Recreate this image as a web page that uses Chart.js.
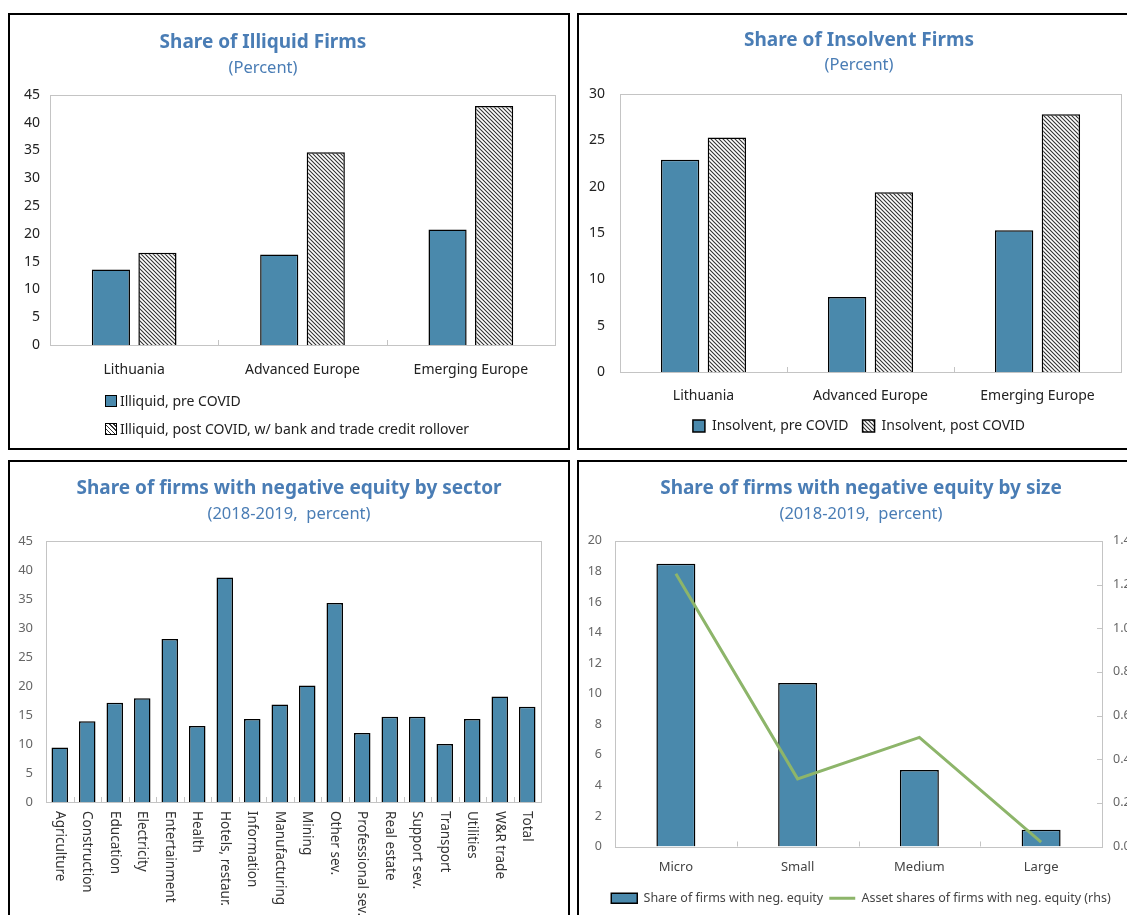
<!DOCTYPE html>
<html lang="en">
  <head>
    <meta charset="UTF-8" />
    <title>Firm liquidity and solvency</title>
    <script src="https://cdn.jsdelivr.net/npm/chart.js@4.4.1/dist/chart.umd.min.js"></script>
    <style>
      html, body { margin: 0; padding: 0; background: #fff; }
      body { width: 1127px; height: 915px; overflow: hidden; position: relative; font-family: 'Noto Sans', sans-serif; }
      .panel { position: absolute; border: 2px solid #000; background: #fff; }
      .panel canvas { position: absolute; left: 0; top: 0; }
      .legend-row { position: absolute; left: 95px; height: 20px; line-height: 20px; font-size: 14px; color: #222; white-space: nowrap; }
      .sw { display: inline-block; width: 10px; height: 10px; border: 1.5px solid #000; vertical-align: -1px; margin-right: 3px; }
      .sw.solid { background: #4a89ac; }
      .sw.hatch { background: repeating-linear-gradient(45deg, #333 0 1px, #fff 1px 3px); }
    </style>
  </head>
  <body>
    <div class="panel" style="left:8px;top:13px;width:558px;height:433px">
      <canvas id="illiquid" width="558" height="433"></canvas>
      <div class="legend-row" style="top:376px"><span class="sw solid"></span>Illiquid, pre COVID</div>
      <div class="legend-row" style="top:404px"><span class="sw hatch"></span>Illiquid, post COVID, w/ bank and trade credit rollover</div>
    </div>
    <div class="panel" style="left:577px;top:13px;width:558px;height:433px">
      <canvas id="insolvent" width="558" height="433"></canvas>
    </div>
    <div class="panel" style="left:8px;top:460px;width:558px;height:455px">
      <canvas id="sector" width="558" height="455"></canvas>
    </div>
    <div class="panel" style="left:577px;top:460px;width:558px;height:455px">
      <canvas id="size" width="558" height="455"></canvas>
    </div>
    <script>
      // values
      const regions = ['Lithuania', 'Advanced Europe', 'Emerging Europe'];
      const illiquidPre = [13.6, 16.3, 20.8];
      const illiquidPost = [16.6, 34.7, 43.0];
      const insolventPre = [22.9, 8.1, 15.3];
      const insolventPost = [25.3, 19.4, 27.8];

      const sectors = ['Agriculture', 'Construction', 'Education', 'Electricity', 'Entertainment', 'Health',
        'Hotels, restaur.', 'Information', 'Manufacturing', 'Mining', 'Other sev.', 'Professional sev.',
        'Real estate', 'Support sev.', 'Transport', 'Utilities', 'W&R trade', 'Total'];
      const negEquitySector = [9.4, 13.9, 17.1, 17.9, 28.1, 13.1, 38.7, 14.3, 16.8, 20.1, 34.3, 11.9,
        14.7, 14.7, 10.0, 14.3, 18.2, 16.4];

      const sizes = ['Micro', 'Small', 'Medium', 'Large'];
      const negEquityShare = [18.5, 10.7, 5.0, 1.1];
      const assetShare = [1.25, 0.31, 0.50, 0.02];

      const ticksIlliquid = [0, 5, 10, 15, 20, 25, 30, 35, 40, 45];
      const ticksInsolvent = [0, 5, 10, 15, 20, 25, 30];
      const ticksSector = [0, 5, 10, 15, 20, 25, 30, 35, 40, 45];
      const ticksSize = [0, 2, 4, 6, 8, 10, 12, 14, 16, 18, 20];
      const ticksAsset = [0, 0.2, 0.4, 0.6, 0.8, 1.0, 1.2, 1.4];

      const barBlue = '#4a89ac';
      const titleBlue = '#4a7db5';
      const lineGreen = '#8db56a';

      Chart.defaults.font.family = "'Noto Sans', sans-serif";
      Chart.defaults.animation = false;

      function hatch() {
        const c = document.createElement('canvas');
        c.width = 4;
        c.height = 4;
        const x = c.getContext('2d');
        x.fillStyle = '#fff';
        x.fillRect(0, 0, 4, 4);
        x.strokeStyle = '#333';
        x.lineWidth = 1.1;
        x.beginPath();
        x.moveTo(-1, -1); x.lineTo(5, 5);
        x.moveTo(-1, 3); x.lineTo(1, 5);
        x.moveTo(3, -1); x.lineTo(5, 1);
        x.stroke();
        return x.createPattern(c, 'repeat');
      }

      const fromTicks = (arr) => ({
        min: arr[0],
        max: arr[arr.length - 1],
        afterBuildTicks: (s) => { s.ticks = arr.map((v) => ({ value: v })); },
      });

      const noGrid = { display: false, drawTicks: false };

      // light grey box round the plot, inward tick marks between categories
      const frame = {
        id: 'frame',
        beforeDatasetsDraw(chart) {
          const { ctx, chartArea: a, scales } = chart;
          ctx.save();
          ctx.strokeStyle = '#c4c4c4';
          ctx.lineWidth = 1;
          ctx.strokeRect(Math.round(a.left) + 0.5, Math.round(a.top) + 0.5, Math.round(a.width), Math.round(a.height));
          ctx.beginPath();
          const x = scales.x;
          for (let i = 1; i < x.ticks.length; i++) {
            const px = Math.round((x.getPixelForValue(i - 1) + x.getPixelForValue(i)) / 2) + 0.5;
            ctx.moveTo(px, a.bottom);
            ctx.lineTo(px, a.bottom - 5);
          }
          if (scales.y1) {
            scales.y1.ticks.forEach((t) => {
              const py = Math.round(scales.y1.getPixelForValue(t.value)) + 0.5;
              ctx.moveTo(a.right, py);
              ctx.lineTo(a.right - 5, py);
            });
          }
          ctx.stroke();
          ctx.restore();
        },
      };
      Chart.register(frame);

      // centre title, subtitle and legend on the panel rather than the padded canvas
      const shiftBoxes = (dx) => ({
        id: 'shiftBoxes',
        afterLayout(chart) {
          chart.boxes.forEach((b) => {
            if (typeof b._drawArgs === 'function' || b === chart.legend) {
              b.left += dx;
              b.right += dx;
            }
          });
        },
      });

      const verticalLabels = {
        id: 'verticalLabels',
        afterDraw(chart) {
          const { ctx } = chart;
          const s = chart.scales.x;
          ctx.save();
          ctx.font = "13.5px 'Noto Sans', sans-serif";
          ctx.fillStyle = '#333';
          ctx.textAlign = 'left';
          ctx.textBaseline = 'middle';
          chart.data.labels.forEach((l, i) => {
            ctx.save();
            ctx.translate(s.getPixelForValue(i), s.top + 9);
            ctx.rotate(Math.PI / 2);
            ctx.fillText(l, 0, 0);
            ctx.restore();
          });
          ctx.restore();
        },
      };

      const titles = (text, sub, tTop, sTop, sBottom) => ({
        title: {
          display: true, text: text, color: titleBlue,
          font: { size: 19, weight: 'bold', lineHeight: 1.2 },
          padding: { top: tTop, bottom: 0 },
        },
        subtitle: {
          display: true, text: sub, color: titleBlue,
          font: { size: 16.5, lineHeight: 1.2 },
          padding: { top: sTop, bottom: sBottom },
        },
        tooltip: { enabled: false },
      });

      const barStyle = { backgroundColor: barBlue, borderColor: '#000', borderWidth: 1.5 };
      const hatchStyle = { backgroundColor: hatch(), borderColor: '#000', borderWidth: 1.5 };

      // top left
      new Chart(document.getElementById('illiquid'), {
        type: 'bar',
        data: {
          labels: regions,
          datasets: [
            { label: 'Illiquid, pre COVID', data: illiquidPre, ...barStyle },
            { label: 'Illiquid, post COVID, w/ bank and trade credit rollover', data: illiquidPost, ...hatchStyle },
          ],
        },
        options: {
          responsive: false,
          categoryPercentage: 0.553,
          barPercentage: 0.82,
          layout: { padding: { right: 13, bottom: 68 } },
          plugins: { ...titles('Share of Illiquid Firms', '(Percent)', 16.6, 3.7, 17), legend: { display: false } },
          scales: {
            x: {
              grid: noGrid, border: { display: false },
              ticks: { color: '#222', font: { size: 14 }, padding: 16.5 },
              afterFit: (s) => { s.height = 35; },
            },
            y: {
              ...fromTicks(ticksIlliquid),
              grid: noGrid, border: { display: false },
              ticks: { color: '#222', font: { size: 14 }, padding: 10 },
              afterFit: (s) => { s.width = 40; },
            },
          },
        },
        plugins: [shiftBoxes(-19.5)],
      });

      // top right
      new Chart(document.getElementById('insolvent'), {
        type: 'bar',
        data: {
          labels: regions,
          datasets: [
            { label: 'Insolvent, pre COVID', data: insolventPre, ...barStyle },
            { label: 'Insolvent, post COVID', data: insolventPost, ...hatchStyle },
          ],
        },
        options: {
          responsive: false,
          categoryPercentage: 0.56,
          barPercentage: 0.82,
          layout: { padding: { right: 16, bottom: 5 } },
          plugins: {
            ...titles('Share of Insolvent Firms', '(Percent)', 14.6, 2.7, 19),
            legend: {
              position: 'bottom',
              labels: { color: '#222', font: { size: 14 }, boxWidth: 12, boxHeight: 12, padding: 14 },
            },
          },
          scales: {
            x: {
              grid: noGrid, border: { display: false },
              ticks: { color: '#222', font: { size: 14 }, padding: 15.5 },
              afterFit: (s) => { s.height = 33; },
            },
            y: {
              ...fromTicks(ticksInsolvent),
              grid: noGrid, border: { display: false },
              ticks: { color: '#222', font: { size: 14 }, padding: 15 },
              afterFit: (s) => { s.width = 41; },
            },
          },
        },
        plugins: [shiftBoxes(9)],
      });

      // bottom left
      new Chart(document.getElementById('sector'), {
        type: 'bar',
        data: {
          labels: sectors,
          datasets: [{ label: 'Share of firms with negative equity', data: negEquitySector, ...barStyle }],
        },
        options: {
          responsive: false,
          categoryPercentage: 1,
          barPercentage: 0.6,
          layout: { padding: { right: 27 } },
          plugins: { ...titles('Share of firms with negative equity by sector', '(2018-2019,  percent)', 15.6, 3.7, 17), legend: { display: false } },
          scales: {
            x: {
              grid: noGrid, border: { display: false },
              ticks: { display: false },
              afterFit: (s) => { s.height = 115; },
            },
            y: {
              ...fromTicks(ticksSector),
              grid: noGrid, border: { display: false },
              ticks: { color: '#666', font: { size: 13 }, padding: 13 },
              afterFit: (s) => { s.width = 36; },
            },
          },
        },
        plugins: [verticalLabels, shiftBoxes(13.5)],
      });

      // bottom right
      new Chart(document.getElementById('size'), {
        type: 'bar',
        data: {
          labels: sizes,
          datasets: [
            {
              type: 'line', label: 'Asset shares of firms with neg. equity (rhs)', data: assetShare, yAxisID: 'y1',
              borderColor: lineGreen, backgroundColor: lineGreen, borderWidth: 3, pointRadius: 0,
              pointStyle: 'line', order: 0,
            },
            {
              label: 'Share of firms with neg. equity', data: negEquityShare, ...barStyle,
              pointStyle: 'rect', order: 1,
            },
          ],
        },
        options: {
          responsive: false,
          categoryPercentage: 1,
          barPercentage: 0.32,
          layout: { padding: { bottom: 2.5 } },
          plugins: {
            ...titles('Share of firms with negative equity by size', '(2018-2019,  percent)', 15.6, 3.7, 17),
            legend: {
              position: 'bottom',
              reverse: true,
              labels: {
                color: '#444', font: { size: 12.5 }, usePointStyle: true, pointStyleWidth: 26, boxHeight: 10, padding: 6,
              },
            },
          },
          scales: {
            x: {
              grid: noGrid, border: { display: false },
              ticks: { color: '#444', font: { size: 13 }, padding: 13 },
              afterFit: (s) => { s.height = 39.5; },
            },
            y: {
              ...fromTicks(ticksSize),
              grid: noGrid, border: { display: false },
              ticks: { color: '#666', font: { size: 12.5 }, padding: 13 },
              afterFit: (s) => { s.width = 36; },
            },
            y1: {
              position: 'right',
              ...fromTicks(ticksAsset),
              grid: noGrid, border: { display: false },
              ticks: { color: '#666', font: { size: 12.5 }, padding: 11, callback: (v) => v.toFixed(1) },
              afterFit: (s) => { s.width = 35; },
            },
          },
        },
        plugins: [shiftBoxes(3)],
      });
    </script>
  </body>
</html>
